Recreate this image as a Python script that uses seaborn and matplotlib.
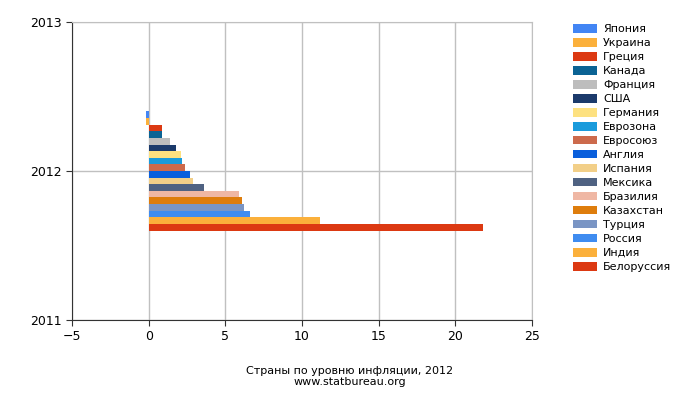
import matplotlib
matplotlib.use("Agg")
import matplotlib.pyplot as plt
import seaborn as sns
import pandas as pd
from matplotlib.patches import Patch

countries = ["Япония","Украина","Греция","Канада","Франция","США","Германия","Еврозона",
             "Евросоюз","Англия","Испания","Мексика","Бразилия","Казахстан","Турция",
             "Россия","Индия","Белоруссия"]
values = [-0.2,-0.2,0.85,0.85,1.4,1.75,2.1,2.2,2.35,2.7,2.9,3.6,5.9,6.1,6.2,6.6,11.2,21.8]
colors = ["#4285f4","#fbb03b","#dc3912","#0b6394","#bdbdbd","#1b3a6b","#fde180","#1a9bdc",
          "#cc6a4c","#0a5fdc","#f2cf88","#4f6282","#efb7a4","#de7d0c","#7a95c4","#3f8cf0",
          "#fbb03b","#dc3912"]
year = 2012

df = pd.DataFrame({"country": countries, "value": values, "year": [year]*len(countries)})
pal = dict(zip(countries, colors))

fig = plt.figure(figsize=(7, 4), dpi=100)
ax = fig.add_axes([72/700, 80/400, 460/700, 298/400])
sns.barplot(data=df, x="value", y="year", hue="country", hue_order=countries[::-1],
            palette=pal, orient="h", native_scale=True, width=0.8, dodge=True,
            legend=False, ax=ax, saturation=1, linewidth=0)
ax.set_xlim(-5, 25)
ax.set_ylim(2011, 2013)
ax.set_xticks([-5,0,5,10,15,20,25])
ax.set_yticks([2011, 2012, 2013])
ax.set_yticklabels(["2011","2012","2013"])
ax.grid(True, color="#c0c0c0", linewidth=1)
ax.set_axisbelow(True)
for s in ax.spines.values():
    s.set_color("#c0c0c0")
ax.spines["left"].set_color("#333333")
ax.spines["bottom"].set_color("#333333")
ax.tick_params(labelsize=9, length=4, colors="#333333", labelcolor="black")
ax.set_xlabel("")
ax.set_ylabel("")
fig.text(350/700, 1-371/400, "Страны по уровню инфляции, 2012", ha="center", va="center", fontsize=8)
fig.text(350/700, 1-382/400, "www.statbureau.org", ha="center", va="center", fontsize=8)
handles = [Patch(facecolor=c, label=n) for n, c in zip(countries, colors)]
fig.legend(handles=handles, loc="upper left", bbox_to_anchor=(563/700, 1-14/400), frameon=False,
           fontsize=8, handlelength=2.2, handleheight=0.8, labelspacing=0.35, handletextpad=0.5)
fig.savefig("out.png", dpi=100)
